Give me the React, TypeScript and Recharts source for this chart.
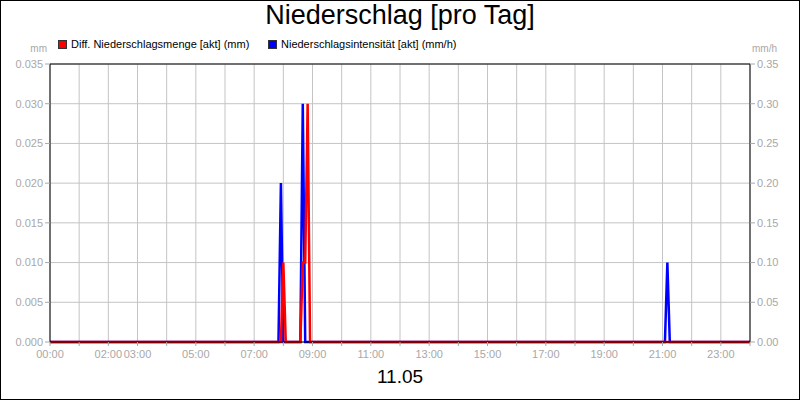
import React from 'react';
import {
  LineChart,
  Line,
  XAxis,
  YAxis,
  CartesianGrid,
  ReferenceLine
} from 'recharts';

// values (times as hh:mm, 5 minute steps)
const amountTimes = ['00:00', '07:55', '08:00', '08:05', '08:35', '08:40', '08:45', '08:50', '08:55', '24:00'];
const amountValues = [0, 0, 0.01, 0, 0, 0.01, 0.01, 0.03, 0, 0];

const intensityTimes = ['00:00', '07:50', '07:55', '08:00', '08:35', '08:40', '08:45', '21:05', '21:10', '21:15', '24:00'];
const intensityValues = [0, 0, 0.2, 0, 0, 0.3, 0, 0, 0.1, 0, 0];

const hourTicks = [0, 1, 2, 3, 4, 5, 6, 7, 8, 9, 10, 11, 12, 13, 14, 15, 16, 17, 18, 19, 20, 21, 22, 23, 24];
const labelledHours = [0, 2, 3, 5, 7, 9, 11, 13, 15, 17, 19, 21, 23];
const leftTicks = [0, 0.005, 0.01, 0.015, 0.02, 0.025, 0.03, 0.035];
const rightTicks = [0, 0.05, 0.1, 0.15, 0.2, 0.25, 0.3, 0.35];

const toHours = (s: string) => {
  const [h, m] = s.split(':').map(Number);
  return h + m / 60;
};

const amountData = amountTimes.map((t, i) => ({ t: toHours(t), v: amountValues[i] }));
const intensityData = intensityTimes.map((t, i) => ({ t: toHours(t), v: intensityValues[i] }));

const FONT = '"Liberation Sans", Arial, sans-serif';
const GREY = '#a8a8a8';
const GRID = '#c4c4c4';

const pad = (n: number) => (n < 10 ? '0' + n : '' + n);

const LegendItem = ({ color, label, left }: { color: string; label: string; left: number }) => (
  <div style={{ position: 'absolute', left, top: 38, display: 'flex', alignItems: 'center', fontSize: 11, color: '#000' }}>
    <span
      style={{
        display: 'inline-block',
        width: 7,
        height: 7,
        background: color,
        border: '1px solid #333',
        marginRight: 4
      }}
    />
    {label}
  </div>
);

const App = () => {
  return (
    <div
      style={{
        position: 'absolute',
        left: 0,
        top: 0,
        width: 800,
        height: 400,
        background: '#fff',
        fontFamily: FONT
      }}
    >
      <LineChart
        width={800}
        height={400}
        margin={{ top: 64, right: 0, bottom: 0, left: 0 }}
        style={{ fontFamily: FONT }}
      >
        <CartesianGrid stroke={GRID} xAxisId="x" yAxisId="left" />
        <XAxis
          xAxisId="x"
          dataKey="t"
          type="number"
          domain={[0, 24]}
          ticks={hourTicks}
          interval={0}
          height={58}
          tickSize={4}
          tickMargin={4}
          tickFormatter={(h: number) => (labelledHours.includes(h) ? `${pad(h)}:00` : '')}
          tick={{ fill: GREY, fontSize: 11 }}
          tickLine={{ stroke: GREY }}
          axisLine={{ stroke: '#000' }}
        />
        <YAxis
          yAxisId="left"
          orientation="left"
          domain={[0, 0.035]}
          ticks={leftTicks}
          interval={0}
          width={50}
          tickSize={5}
          tickFormatter={(v: number) => v.toFixed(3)}
          tick={{ fill: GREY, fontSize: 11 }}
          tickLine={{ stroke: GREY }}
          axisLine={{ stroke: '#000' }}
        />
        <YAxis
          yAxisId="right"
          orientation="right"
          domain={[0, 0.35]}
          ticks={rightTicks}
          interval={0}
          width={50}
          tickSize={5}
          tickFormatter={(v: number) => v.toFixed(2)}
          tick={{ fill: GREY, fontSize: 11 }}
          tickLine={{ stroke: GREY }}
          axisLine={{ stroke: '#000' }}
        />
        <ReferenceLine xAxisId="x" yAxisId="left" y={0.035} stroke="#000" />
        <Line
          xAxisId="x"
          yAxisId="right"
          data={intensityData}
          dataKey="v"
          name="Niederschlagsintensität [akt] (mm/h)"
          stroke="#0000ff"
          strokeWidth={2.5}
          dot={false}
          isAnimationActive={false}
        />
        <Line
          xAxisId="x"
          yAxisId="left"
          data={amountData}
          dataKey="v"
          name="Diff. Niederschlagsmenge [akt] (mm)"
          stroke="#ff0000"
          strokeWidth={2.5}
          dot={false}
          isAnimationActive={false}
        />
      </LineChart>

      <div style={{ position: 'absolute', left: 0, top: 0, width: 800, textAlign: 'center', fontSize: 27, color: '#000' }}>
        Niederschlag [pro Tag]
      </div>
      <LegendItem color="#ff0000" left={58} label="Diff. Niederschlagsmenge [akt] (mm)" />
      <LegendItem color="#0000ff" left={268} label="Niederschlagsintensität [akt] (mm/h)" />
      <div style={{ position: 'absolute', right: 753, top: 43, fontSize: 10, color: GREY }}>mm</div>
      <div style={{ position: 'absolute', left: 752, top: 43, fontSize: 10, color: GREY }}>mm/h</div>
      <div style={{ position: 'absolute', left: 0, top: 366, width: 800, textAlign: 'center', fontSize: 19, color: '#000' }}>
        11.05
      </div>
      <div
        style={{
          position: 'absolute',
          left: 0,
          top: 0,
          width: 800,
          height: 400,
          border: '1px solid #000',
          boxSizing: 'border-box',
          pointerEvents: 'none'
        }}
      />
    </div>
  );
};

export default App;
